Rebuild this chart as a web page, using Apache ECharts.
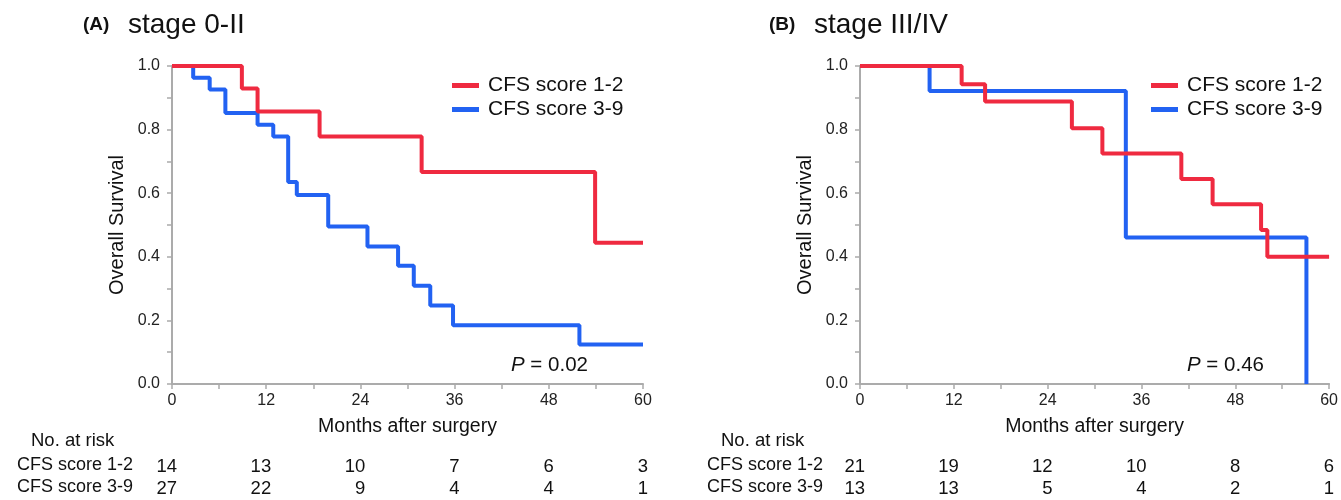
<!DOCTYPE html>
<html>
<head>
<meta charset="utf-8">
<script src="https://cdn.jsdelivr.net/npm/echarts@6/dist/echarts.min.js"></script>
<style>
  html, body { margin: 0; padding: 0; background: #fff; }
  #chart { width: 1341px; height: 500px; }
</style>
</head>
<body>
<div id="chart"></div>
<script>
// months at which the number at risk is reported
const riskTimes = [0, 12, 24, 36, 48, 60];

// (A) stage 0-II
const stageATimesLow = [0, 8.9, 10.9, 18.8, 31.8, 53.9, 60];
const stageASurvLow = [1.0, 0.929, 0.857, 0.778, 0.667, 0.444, 0.444];
const stageATimesHigh = [0, 2.7, 4.8, 6.8, 10.9, 12.9, 14.8, 15.9, 19.9, 24.9, 28.8, 30.8, 32.9, 35.8, 51.9, 60];
const stageASurvHigh = [1.0, 0.963, 0.926, 0.852, 0.815, 0.778, 0.635, 0.594, 0.495, 0.432, 0.372, 0.309, 0.247, 0.185, 0.124, 0.124];
const stageARiskLow = [14, 13, 10, 7, 6, 3];
const stageARiskHigh = [27, 22, 9, 4, 4, 1];

// (B) stage III/IV
const stageBTimesLow = [0, 13.0, 16.0, 27.1, 31.0, 41.1, 45.1, 51.3, 52.1, 60];
const stageBSurvLow = [1.0, 0.943, 0.888, 0.804, 0.725, 0.645, 0.565, 0.484, 0.40, 0.40];
const stageBTimesHigh = [0, 8.9, 34.0, 57.1];
const stageBSurvHigh = [1.0, 0.921, 0.461, 0.0];
const stageBRiskLow = [21, 19, 12, 10, 8, 6];
const stageBRiskHigh = [13, 13, 5, 4, 2, 1];

const nameLow = 'CFS score 1-2';
const nameHigh = 'CFS score 3-9';
const red = '#EF2A40';
const blue = '#2262F2';
const axisGray = '#ABABAB';
const font = '"Liberation Sans", Arial, sans-serif';

function kmSeries(name, color, idx, times, surv, z) {
  return {
    name: name,
    type: 'line',
    step: 'end',
    xAxisIndex: idx,
    yAxisIndex: idx,
    data: times.map((t, i) => [t, surv[i]]),
    symbol: 'none',
    showSymbol: false,
    lineStyle: { color: color, width: 4 },
    itemStyle: { color: color },
    z: z
  };
}

function xAxisCfg(idx) {
  return {
    type: 'value', gridIndex: idx, min: 0, max: 60, interval: 6,
    name: 'Months after surgery', nameLocation: 'middle', nameGap: 33,
    nameTextStyle: { fontSize: 19.5, color: '#111', fontFamily: font },
    axisLine: { show: true, lineStyle: { color: axisGray, width: 2 } },
    axisTick: { show: true, length: 5, lineStyle: { color: axisGray, width: 1.5 } },
    axisLabel: {
      formatter: v => (v % 12 === 0 ? String(v) : ''),
      fontSize: 16, color: '#222', margin: 9, fontFamily: font
    },
    splitLine: { show: false }
  };
}

function yAxisCfg(idx) {
  return {
    type: 'value', gridIndex: idx, min: 0, max: 1, interval: 0.1,
    name: 'Overall Survival', nameLocation: 'middle', nameGap: 45,
    nameTextStyle: { fontSize: 20, color: '#111', fontFamily: font },
    axisLine: { show: true, lineStyle: { color: axisGray, width: 2 } },
    axisTick: { show: true, length: 5, lineStyle: { color: axisGray, width: 1.5 } },
    axisLabel: {
      formatter: v => (Math.round(v * 10) % 2 === 0 ? v.toFixed(1) : ''),
      fontSize: 16, color: '#222', margin: 12, fontFamily: font
    },
    splitLine: { show: false }
  };
}

function legendCfg(left) {
  return {
    left: left, top: 70, orient: 'vertical',
    icon: 'rect', itemWidth: 27, itemHeight: 5, itemGap: 3,
    selectedMode: false,
    textStyle: { fontSize: 21, color: '#111', fontFamily: font, padding: [0, 0, 0, 4] },
    data: [nameLow, nameHigh]
  };
}

function titleText(x, label, text) {
  return [
    { type: 'text', left: x, top: 15, style: { text: label, font: 'bold 19px ' + font, fill: '#111' } },
    { type: 'text', left: x + 45, top: 11, style: { text: text, font: '28px ' + font, fill: '#111' } }
  ];
}

function pText(x, value) {
  return {
    type: 'text', left: x, top: 355,
    style: {
      text: '{i|P} = ' + value,
      rich: { i: { fontStyle: 'italic', fontSize: 20.5, fontFamily: font } },
      fontSize: 20.5, fontFamily: font, fill: '#111'
    }
  };
}

const chart = echarts.init(document.getElementById('chart'));

chart.setOption({
  animation: false,
  backgroundColor: '#fff',
  grid: [
    { left: 172, right: 698, top: 66, bottom: 116 },
    { left: 860, right: 11, top: 66, bottom: 116 }
  ],
  xAxis: [xAxisCfg(0), xAxisCfg(1)],
  yAxis: [yAxisCfg(0), yAxisCfg(1)],
  legend: [legendCfg(447), legendCfg(1146)],
  series: [
    kmSeries(nameHigh, blue, 0, stageATimesHigh, stageASurvHigh, 2),
    kmSeries(nameLow, red, 0, stageATimesLow, stageASurvLow, 3),
    kmSeries(nameHigh, blue, 1, stageBTimesHigh, stageBSurvHigh, 2),
    kmSeries(nameLow, red, 1, stageBTimesLow, stageBSurvLow, 3)
  ]
});

// titles, P values and the number-at-risk table, placed with the axes' own scale
function riskTable(idx, labelX, lowCounts, highCounts) {
  const els = [];
  els.push({ type: 'text', left: labelX + 14, top: 431, style: { text: 'No. at risk', font: '18.5px ' + font, fill: '#111' } });
  els.push({ type: 'text', left: labelX, top: 456, style: { text: 'CFS score 1-2', font: '18px ' + font, fill: '#111' } });
  els.push({ type: 'text', left: labelX, top: 478, style: { text: 'CFS score 3-9', font: '18px ' + font, fill: '#111' } });
  riskTimes.forEach((t, i) => {
    const x = chart.convertToPixel({ xAxisIndex: idx }, t) + 5;
    els.push({ type: 'text', x: x, y: 467, style: { text: String(lowCounts[i]), font: '18.5px ' + font, fill: '#111', align: 'right', verticalAlign: 'middle' } });
    els.push({ type: 'text', x: x, y: 489, style: { text: String(highCounts[i]), font: '18.5px ' + font, fill: '#111', align: 'right', verticalAlign: 'middle' } });
  });
  return els;
}

chart.setOption({
  graphic: [].concat(
    titleText(83, '(A)', 'stage 0-II'),
    titleText(769, '(B)', 'stage III/IV'),
    [pText(511, '0.02'), pText(1187, '0.46')],
    riskTable(0, 17, stageARiskLow, stageARiskHigh),
    riskTable(1, 707, stageBRiskLow, stageBRiskHigh)
  )
});
</script>
</body>
</html>
